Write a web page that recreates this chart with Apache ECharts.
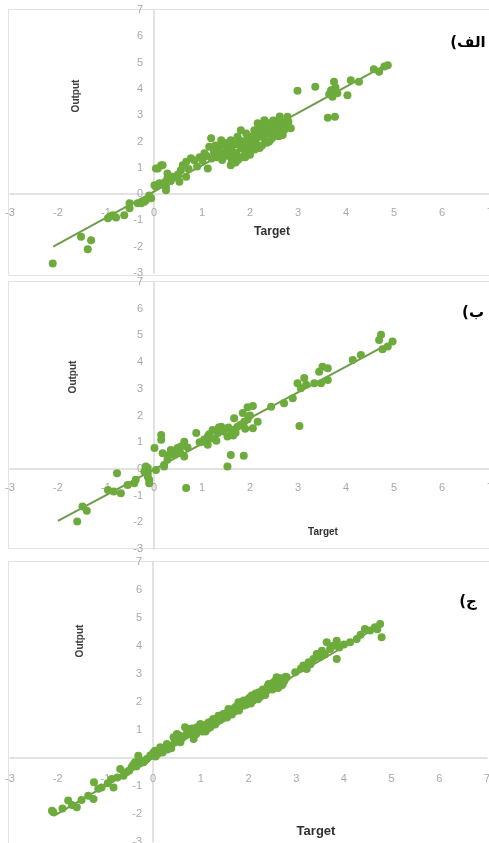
<!DOCTYPE html>
<html><head><meta charset="utf-8">
<script src="https://cdn.jsdelivr.net/npm/echarts@6/dist/echarts.min.js"></script>
<style>html,body{margin:0;padding:0;background:#fff}#c{width:489px;height:843px}</style>
</head><body><div id="c"></div>
<script>
// ---- data ----
const axisMin = -3, axisMax = 7, axisStep = 1;
const panelLabels = ['الف)', 'ب)', 'ج)'];
const xTitle = 'Target';
const yTitle = 'Output';

const pointsA = [
 [-2.11,-2.64],[-1.52,-1.62],[-1.31,-1.75],[-1.38,-2.1],
 [-0.96,-0.92],[-0.86,-0.8],[-0.79,-0.89],[-0.92,-0.85],[-0.62,-0.8],[-0.51,-0.54],[-0.51,-0.35],[-0.27,-0.35],[-0.17,-0.23],[-0.06,-0.16],[-0.2,-0.29],[-0.34,-0.35],[-0.1,-0.05],
 [0.01,0.34],[0.11,0.41],[0.25,0.15],[0.04,0.97],[0.15,1.1],[0.28,0.78],[0.08,0.97],[0.18,1.1],[0.04,0.28],[0.25,0.28],[0.28,0.6],[0.22,0.45],
 [0.39,0.66],[0.53,0.47],[0.67,0.66],[0.56,0.91],[0.67,1.23],[0.77,1.36],[0.84,1.29],[0.6,1.1],[0.72,0.95],[0.9,1.05],[0.95,1.4],[0.5,0.75],[0.35,0.5],
 [1.01,1.29],[1.12,0.97],[1.05,1.55],[1.15,1.8],[1.19,2.12],[1.25,1.6],[1.3,1.4],[1.4,2.05],[1.46,1.55],[1.5,1.8],[1.35,1.75],[1.42,1.3],[1.55,1.95],
 [1.1,1.45],[1.2,1.35],[1.28,1.85],[1.33,1.55],[1.45,1.95],[1.52,1.6],[1.58,1.75],[1.62,1.3],[1.72,1.55],[1.78,2.05],[1.88,1.8],[1.92,2.3],
 [1.6,2.05],[1.6,1.1],[1.67,1.42],[1.74,2.18],[1.81,2.43],[1.81,1.74],[1.7,1.9],[1.65,1.6],[1.75,1.3],[1.85,2.0],[1.9,1.55],[1.95,2.18],[1.98,1.85],[1.55,1.45],
 [1.7,1.2],[1.9,1.4],[2.0,1.5],[2.2,1.75],[2.4,2.0],[2.6,2.2],[1.65,1.2],[1.85,1.4],[2.1,1.7],[2.35,1.95],[2.5,2.2],
 [2.02,1.8],[2.09,2.43],[2.16,2.69],[2.05,2.2],[2.12,1.95],[2.2,2.3],[2.25,1.85],[2.3,2.81],[2.37,2.31],[2.32,2.0],[2.4,2.55],[2.44,2.62],[2.45,2.1],[2.0,1.6],[2.2,2.55],[2.28,2.15],
 [2.0,2.05],[2.08,2.0],[2.15,2.15],[2.22,2.65],[2.27,2.45],[2.35,2.7],[2.42,2.35],[2.48,2.8],[2.5,2.55],[2.62,2.95],[2.7,2.7],[2.8,2.75],
 [2.58,2.81],[2.52,2.35],[2.6,2.5],[2.71,2.43],[2.78,2.94],[2.85,2.5],[2.65,2.75],[2.75,2.65],[2.55,2.65],[2.68,2.25],
 [2.99,3.93],[3.36,4.08],[3.62,2.9],[3.77,2.94],[3.69,3.95],[3.72,3.7],[3.75,4.27],[3.82,3.83],[3.65,3.8],[3.78,4.05],[4.03,3.76],[4.1,4.33],[4.27,4.27],[4.58,4.75],[4.69,4.65],[4.87,4.9],[4.8,4.85]
];
const trendA = [[-2.1,-2.0],[4.9,4.98]];

const pointsB = [
 [-1.6,-1.97],[-1.49,-1.41],[-1.4,-1.57],[-0.96,-0.79],[-0.84,-0.85],[-0.69,-0.91],[-0.77,-0.16],[-0.55,-0.6],[-0.41,-0.54],[-0.38,-0.41],[-0.13,-0.16],[-0.1,-0.41],[-0.13,0.03],[0.04,-0.04],[0.21,0.15],[0.01,0.78],[0.18,0.59],[-0.17,0.09],[-0.13,-0.29],[-0.1,-0.54],[-0.2,-0.1],
 [0.63,1.02],[0.56,0.84],[0.49,0.78],[0.35,0.71],[0.63,0.46],[0.42,0.52],[0.28,0.34],[0.15,1.27],[0.15,1.09],[0.21,0.09],[0.67,-0.72],[0.5,0.65],[0.7,0.8],[0.3,0.5],[0.55,0.6],
 [0.88,1.34],[1.01,1.02],[1.12,0.9],[1.12,1.21],[1.22,1.46],[1.33,1.34],[1.4,1.58],[1.53,1.21],[1.6,1.46],[1.67,1.9],[1.74,1.58],[1.88,1.77],[1.85,2.09],[1.95,2.31],[2.06,2.36],[2.06,1.52],[2.16,1.77],[1.6,0.52],[1.87,0.49],[1.53,0.09],[1.05,1.1],[1.2,1.15],[1.3,1.05],[1.45,1.4],[1.55,1.55],[1.7,1.35],[1.8,1.65],[1.95,1.85],[2.0,2.0],[1.15,1.3],[0.95,1.0],[1.65,1.25],[1.9,1.5],[1.35,1.55],
 [2.44,2.33],[2.71,2.46],[2.89,2.65],[2.99,3.21],[3.06,3.02],[3.13,3.4],[3.17,3.15],[3.34,3.21],[3.48,3.21],[3.62,3.33],[3.44,3.64],[3.51,3.83],[3.62,3.77],[3.03,1.61],
 [4.14,4.08],[4.31,4.27],[4.73,5.02],[4.69,4.83],[4.97,4.77],[4.87,4.58],[4.76,4.48]
];
const trendB = [[-2.0,-1.95],[5.04,4.83]];

const pointsC = [
 [-2.12,-1.88],[-2.09,-1.94],[-1.78,-1.52],[-1.7,-1.68],[-1.6,-1.76],[-1.36,-1.35],[-1.25,-1.46],[-1.24,-0.87],[-1.08,-1.05],[-0.87,-0.75],[-0.83,-1.05],[-0.69,-0.39],[-0.62,-0.63],[-0.45,-0.33],[-0.38,-0.15],[-0.31,0.08],[-0.24,-0.1],[-0.13,-0.04],[-0.17,-0.1],[-0.06,0.08],[-0.35,-0.3],[-0.28,-0.2],
 [0.01,0.2],[0.15,0.32],[0.29,0.5],[0.04,0.26],[0.15,0.38],[0.25,0.32],[0.36,0.44],[0.43,0.74],[0.5,0.86],[0.57,0.56],[0.67,1.1],[0.78,1.04],[0.85,0.68],[0.92,1.1],[0.99,1.21],[1.09,1.15],[1.16,1.27],[1.26,1.39],[1.37,1.51],[1.47,1.57],[1.58,1.75],[1.68,1.75],[1.79,1.99],[1.89,1.87],[1.96,2.05],[2.07,2.23],[2.17,2.17],[2.28,2.29],[2.38,2.4],[2.42,2.64],[2.52,2.7],[2.59,2.88],[2.73,2.76],[2.8,2.88],[2.98,3.06],[3.15,3.3],[3.22,3.18],[3.26,3.42],[3.36,3.54],[3.43,3.71],[3.54,3.83],[3.64,4.13],[3.71,3.89],[3.78,4.01],[3.85,4.19],[3.85,3.54],[4.13,4.13],[4.27,4.25],[4.44,4.61],[4.55,4.55],[4.65,4.67],[4.76,4.79],[4.79,4.31],
 [0.45,0.55],[0.6,0.7],[0.7,0.85],[0.8,0.9],[0.9,0.85],[1.0,1.0],[1.05,1.05],[1.1,0.95],[1.2,1.1],[1.25,1.2],[1.3,1.2],[1.35,1.3],[1.4,1.35],[1.45,1.4],[1.5,1.5],[1.55,1.45],[1.6,1.6],[1.65,1.55],[1.7,1.65],[1.75,1.85],[1.8,1.7],[1.85,1.95],[1.9,2.05],[1.95,1.9],[2.0,2.1],[2.05,1.95],[2.1,2.05],[2.15,2.3],[2.2,2.1],[2.25,2.2],[2.3,2.45],[2.35,2.25],[2.45,2.5],[2.5,2.45],[2.55,2.6],[2.6,2.65],[2.65,2.8],[2.7,2.6],[2.75,2.75],[2.78,2.9],[2.62,2.5],[1.15,1.05],[0.95,0.95],[1.0,1.15],[3.1,3.2],[3.3,3.35],[3.5,3.6],[3.6,3.7],[3.9,3.95],[4.0,4.05],[4.35,4.4],[4.7,4.6],[-0.5,-0.45],[-0.05,0.1],[0.1,0.15],[0.2,0.2],[0.3,0.3],[0.38,0.35],
 [-1.9,-1.8],[-1.5,-1.5],[-1.15,-1.1],[-0.95,-0.9],[-0.75,-0.7],[-0.55,-0.5],[-0.42,-0.25],[-0.2,-0.15],[0.05,0.05],[0.22,0.35],[0.33,0.4],[0.48,0.7],[0.55,0.8],[0.62,0.75],[0.72,1.0],[0.82,1.05],[0.88,0.95],[0.97,1.1],[1.03,0.95],[1.12,1.2],[1.18,1.15],[1.22,1.3],[1.32,1.35],[1.38,1.45],[1.42,1.5],[1.52,1.55],[1.57,1.65],[1.62,1.7],[1.72,1.8],[1.77,1.75],[1.82,1.9],[1.87,2.0],[1.92,1.95],[1.98,2.0],[2.02,2.15],[2.12,2.2],[2.18,2.25],[2.22,2.35],[2.32,2.35],[2.4,2.55],[2.48,2.6],[2.56,2.75],[2.64,2.7],[2.68,2.85],[2.72,2.65],[2.76,2.8]
];
const trendC = [[-2.08,-2.07],[4.78,4.75]];

const panelPoints = [pointsA, pointsB, pointsC];
const panelTrends = [trendA, trendB, trendC];

// ---- styling / layout ----
const dotColor = '#6dab3c';
const trendColor = '#6f9c4b';
const tickColor = '#a8a8a8';
const axisColor = '#d9d9d9';
const fam = '"Liberation Sans", "DejaVu Sans", sans-serif';

const grids = [
  {left: 10, top: 10, width: 480, height: 263, outerBoundsMode: 'none', containLabel: false},
  {left: 10, top: 282, width: 480, height: 267, outerBoundsMode: 'none', containLabel: false},
  {left: 10, top: 562, width: 477, height: 280, outerBoundsMode: 'none', containLabel: false}
];
const xLabelMargins = [13, 14, 15];

// place each axis through the other axis' zero (fraction of the axis span)
const zeroFrac = (0 - axisMin) / (axisMax - axisMin);

const xAxes = [], yAxes = [], series = [];
grids.forEach((g, i) => {
  xAxes.push({
    type: 'value', gridIndex: i, min: axisMin, max: axisMax, interval: axisStep,
    position: 'bottom', offset: -g.height * zeroFrac,
    axisLine: {onZero: false, lineStyle: {color: axisColor, width: 1.5}},
    axisTick: {show: false}, splitLine: {show: false},
    axisLabel: {margin: xLabelMargins[i], color: tickColor, fontSize: 11, fontFamily: fam, showMinLabel: true, showMaxLabel: true}
  });
  yAxes.push({
    type: 'value', gridIndex: i, min: axisMin, max: axisMax, interval: axisStep,
    position: 'left', offset: -g.width * zeroFrac,
    axisLine: {onZero: false, lineStyle: {color: axisColor, width: 1.5}},
    axisTick: {show: false}, splitLine: {show: false},
    axisLabel: {margin: 11, color: tickColor, fontSize: 11, fontFamily: fam, showMinLabel: true, showMaxLabel: true}
  });
  series.push({
    type: 'line', xAxisIndex: i, yAxisIndex: i, data: panelTrends[i],
    showSymbol: false, z: 1, silent: true,
    lineStyle: {color: trendColor, width: 2}
  });
  series.push({
    type: 'scatter', xAxisIndex: i, yAxisIndex: i, data: panelPoints[i],
    symbolSize: 8, z: 2,
    itemStyle: {color: dotColor, opacity: 1}
  });
});

const rtl = s => '\u202B' + s + '\u202C';
const txt = (x, y, text, font, fill, rot) => ({
  type: 'text', x, y, rotation: rot || 0, z: 10,
  style: {text, font, fill, align: 'center', verticalAlign: 'middle'}
});
const rect = (x, y, w, h) => ({
  type: 'rect', z: -1, shape: {x, y, width: w, height: h},
  style: {fill: 'none', stroke: '#e2e2e2', lineWidth: 1}
});

const graphics = [
  rect(8.5, 9.5, 490, 266), rect(8.5, 281.5, 490, 267), rect(8.5, 561.5, 490, 290),
  txt(76, 96, yTitle, 'bold 10px ' + fam, '#404040', Math.PI / 2),
  txt(73, 377, yTitle, 'bold 10px ' + fam, '#404040', Math.PI / 2),
  txt(80, 641, yTitle, 'bold 10px ' + fam, '#404040', Math.PI / 2),
  txt(272, 232, xTitle, 'bold 12px ' + fam, '#303030'),
  txt(323, 532, xTitle, 'bold 10px ' + fam, '#303030'),
  txt(316, 831, xTitle, 'bold 13px ' + fam, '#303030'),
  txt(468, 43, rtl(panelLabels[0]), 'bold 15px "DejaVu Sans", sans-serif', '#000'),
  txt(473, 313, rtl(panelLabels[1]), 'bold 15px "DejaVu Sans", sans-serif', '#000'),
  txt(468, 602, rtl(panelLabels[2]), 'bold 15px "DejaVu Sans", sans-serif', '#000')
];

const chart = echarts.init(document.getElementById('c'), null, {renderer: 'canvas'});
chart.setOption({
  animation: false,
  backgroundColor: '#fff',
  grid: grids,
  xAxis: xAxes,
  yAxis: yAxes,
  series: series,
  graphic: graphics
});
</script></body></html>
